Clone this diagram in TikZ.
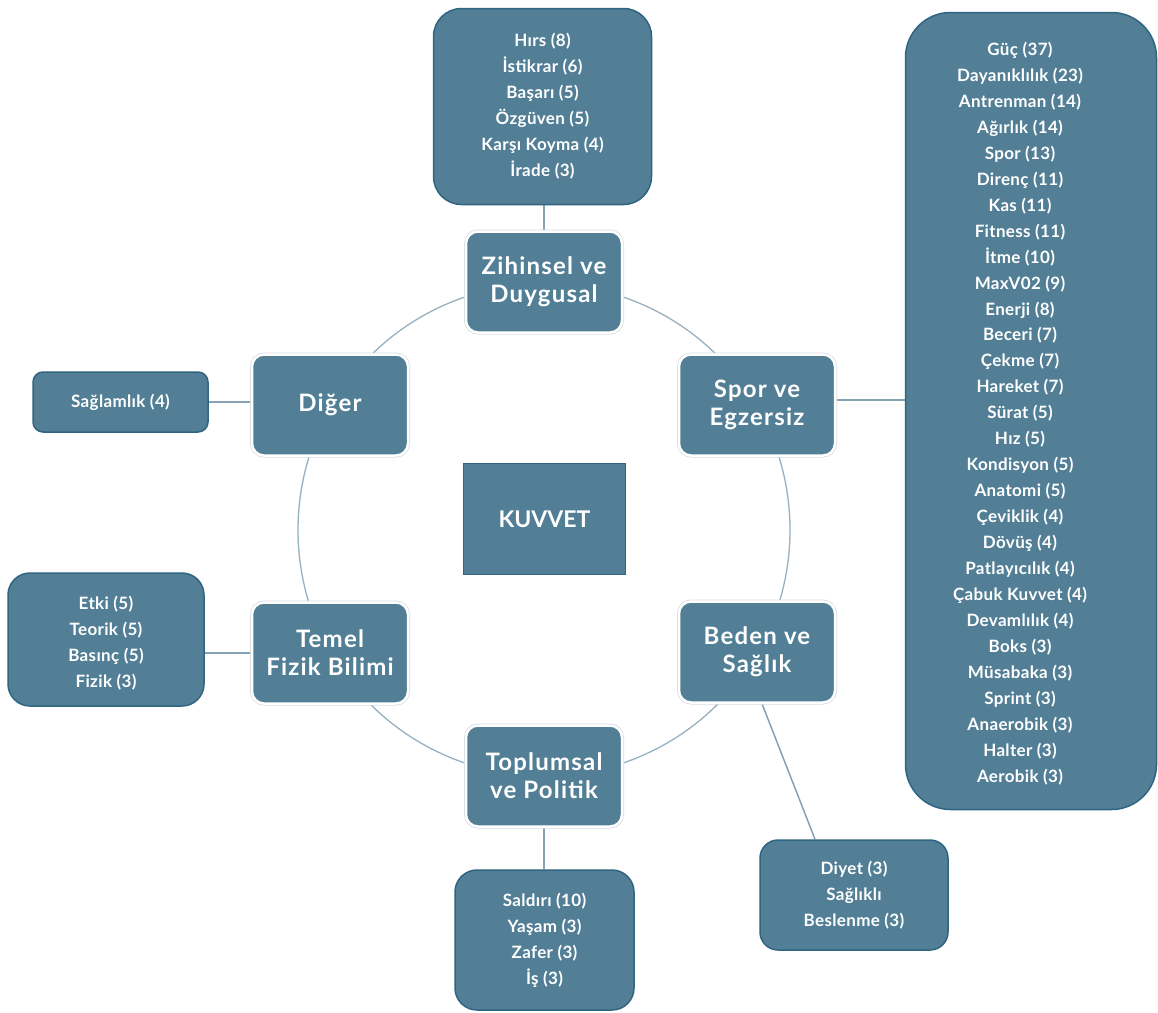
\documentclass[tikz,border=0pt]{standalone}
\usepackage{fontspec}
\setmainfont{Lato}
\newfontfamily\catfont[LetterSpace=5]{Lato}
\newfontfamily\leaffont[LetterSpace=2]{Lato}
\usetikzlibrary{backgrounds}
\definecolor{boxfill}{HTML}{527F96}
\definecolor{boxedge}{HTML}{2F6580}
\definecolor{ringc}{HTML}{98B0BF}
\definecolor{linkc}{HTML}{86A2B4}
\definecolor{haloc}{HTML}{D5DDE2}
\begin{document}
\begin{tikzpicture}[x=1pt,y=-1pt,
  cat/.style={rectangle, rounded corners=12pt, fill=boxfill, draw=white, line width=2.5pt,
    preaction={draw=haloc, line width=4pt}, minimum width=156pt, minimum height=101pt,
    text=white, font=\catfont\bfseries\fontsize{24}{28}\selectfont, align=center, inner sep=0pt},
  leaf/.style={rectangle, fill=boxfill, draw=boxedge, line width=1.5pt, text=white,
    font=\leaffont\bfseries\fontsize{17}{26}\selectfont, align=center, inner sep=0pt},
  leaftext/.style={text=white, font=\leaffont\bfseries\fontsize{17}{25.96}\selectfont, align=center, inner sep=0pt},
  link/.style={draw=linkc, line width=1.5pt}]
\useasboundingbox (0,0) rectangle (1158,1012);
\draw[draw=ringc, line width=1.3pt] (544,530) circle[radius=246pt];

\node[cat] (zih) at (544,282) {Zihinsel ve\\Duygusal};
\node[cat] (dig) at (330,405) {Diğer};
\node[cat] (spor) at (757,405) {Spor ve\\Egzersiz};
\node[cat] (temel) at (330,653) {Temel\\Fizik Bilimi};
\node[cat] (beden) at (757,652) {Beden ve\\Sağlık};
\node[cat] (top) at (544,776) {Toplumsal\\ve Politik};
\node[rectangle, fill=boxfill, draw=boxedge, line width=1.5pt, minimum width=162pt,
  minimum height=111pt, text=white, font=\bfseries\fontsize{23}{26}\selectfont] (kuv) at (544.5,519) {KUVVET};

\node[leaf, rounded corners=28pt, minimum width=218pt, minimum height=196pt] (zl) at (542.5,106.5)
  {Hırs (8)\\İstikrar (6)\\Başarı (5)\\Özgüven (5)\\Karşı Koyma (4)\\İrade (3)};
\node[leaf, rounded corners=45pt, minimum width=251pt, minimum height=797pt] (rb) at (1031,411) {};
\node[leaftext] (rbt) at (1020,413.5)
  {Güç (37)\\Dayanıklılık (23)\\Antrenman (14)\\Ağırlık (14)\\Spor (13)\\Direnç (11)\\Kas (11)\\Fitness (11)\\İtme (10)\\MaxV02 (9)\\Enerji (8)\\Beceri (7)\\Çekme (7)\\Hareket (7)\\Sürat (5)\\Hız (5)\\Kondisyon (5)\\Anatomi (5)\\Çeviklik (4)\\Dövüş (4)\\Patlayıcılık (4)\\Çabuk Kuvvet (4)\\Devamlılık (4)\\Boks (3)\\Müsabaka (3)\\Sprint (3)\\Anaerobik (3)\\Halter (3)\\Aerobik (3)};
\node[leaf, rounded corners=10pt, minimum width=175pt, minimum height=60pt] (sag) at (120.5,402) {Sağlamlık (4)};
\node[leaf, rounded corners=22pt, minimum width=196pt, minimum height=133pt] (etki) at (106,639.5) {};
\node[leaftext] (etkit) at (106,643) {Etki (5)\\Teorik (5)\\Basınç (5)\\Fizik (3)};
\node[leaf, rounded corners=22pt, minimum width=179pt, minimum height=140pt] (sald) at (544.5,940)
  {Saldırı (10)\\Yaşam (3)\\Zafer (3)\\İş (3)};
\node[leaf, rounded corners=18pt, minimum width=188pt, minimum height=110pt] (diyet) at (854,895)
  {Diyet (3)\\Sağlıklı\\Beslenme (3)};

\begin{scope}[on background layer]
\draw[link] (zih.north |- zl.south) -- (zih.north);
\draw[link] (spor.east) ++(0,-5) coordinate (se) -- (se -| rb.west);
\draw[link] (sag.east) -- (sag.east -| dig.west);
\draw[link] (temel.west -| etki.east) -- (temel.west);
\draw[link] (top.south) -- (top.south |- sald.north);
\draw[link] ([xshift=5pt]beden.south) -- ([xshift=-39pt]diyet.north);
\end{scope}
\end{tikzpicture}
\end{document}
